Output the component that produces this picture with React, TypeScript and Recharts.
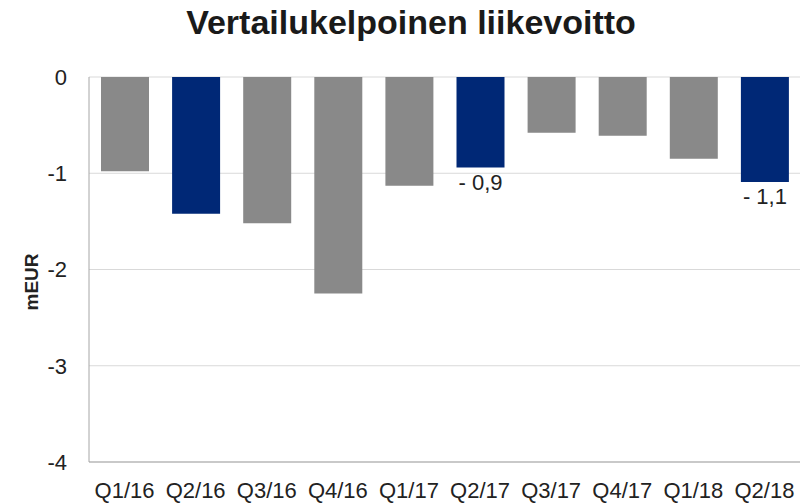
import { BarChart, Bar, XAxis, YAxis, CartesianGrid, LabelList, Cell } from "recharts";

const quarters = ["Q1/16", "Q2/16", "Q3/16", "Q4/16", "Q1/17", "Q2/17", "Q3/17", "Q4/17", "Q1/18", "Q2/18"];
const values = [-0.98, -1.42, -1.52, -2.25, -1.13, -0.94, -0.58, -0.61, -0.85, -1.09];
const barLabels = ["", "", "", "", "", "- 0,9", "", "", "", "- 1,1"];
const yTicks = [0, -1, -2, -3, -4];

const GRAY = "#898989";
const NAVY = "#002876";
const FONT = "'Liberation Sans', Arial, sans-serif";

const data = quarters.map((q, i) => ({ q, value: values[i], label: barLabels[i] }));

const BelowLabel = (props: any) => {
  const { x, y, width, height, value } = props;
  if (!value) return null;
  const bottom = Math.max(y, y + height);
  return (
    <text x={x + width / 2} y={bottom + 6} dy="0.75em" textAnchor="middle" fontSize={22} fill="#222" fontFamily={FONT}>
      {value}
    </text>
  );
};

export default function App() {
  return (
    <div style={{ position: "absolute", left: 0, top: 0, width: 809, height: 503, background: "#fff", fontFamily: FONT }}>
      <div
        style={{
          position: "absolute",
          left: 0,
          width: 822,
          top: 3,
          textAlign: "center",
          fontSize: 34,
          fontWeight: "bold",
          color: "#1a1a1a",
        }}
      >
        Vertailukelpoinen liikevoitto
      </div>
      {/* axis title, rotated */}
      <div
        style={{
          position: "absolute",
          left: 31,
          top: 282,
          transform: "translate(-50%, -50%) rotate(-90deg)",
          fontSize: 19,
          fontWeight: "bold",
          color: "#222",
          whiteSpace: "nowrap",
          lineHeight: 1,
        }}
      >
        mEUR
      </div>
      <BarChart width={809} height={503} data={data} margin={{ top: 77, right: 9, bottom: 0, left: 0 }}>
        <CartesianGrid vertical={false} stroke="#d9d9d9" />
        <XAxis
          dataKey="q"
          height={41}
          tickSize={0}
          tickMargin={20}
          interval={0}
          stroke="#a6a6a6"
          tick={{ fill: "#222", fontSize: 22, fontFamily: FONT }}
        />
        <YAxis
          width={89}
          domain={[-4, 0]}
          ticks={yTicks}
          tickSize={0}
          tickMargin={22}
          stroke="#a6a6a6"
          tick={{ fill: "#222", fontSize: 22, fontFamily: FONT }}
        />
        <Bar dataKey="value" barSize={48} isAnimationActive={false}>
          {data.map((d, i) => (
            <Cell key={`c-${i}`} fill={d.q.startsWith("Q2") ? NAVY : GRAY} />
          ))}
          <LabelList dataKey="label" content={BelowLabel} />
        </Bar>
      </BarChart>
    </div>
  );
}
